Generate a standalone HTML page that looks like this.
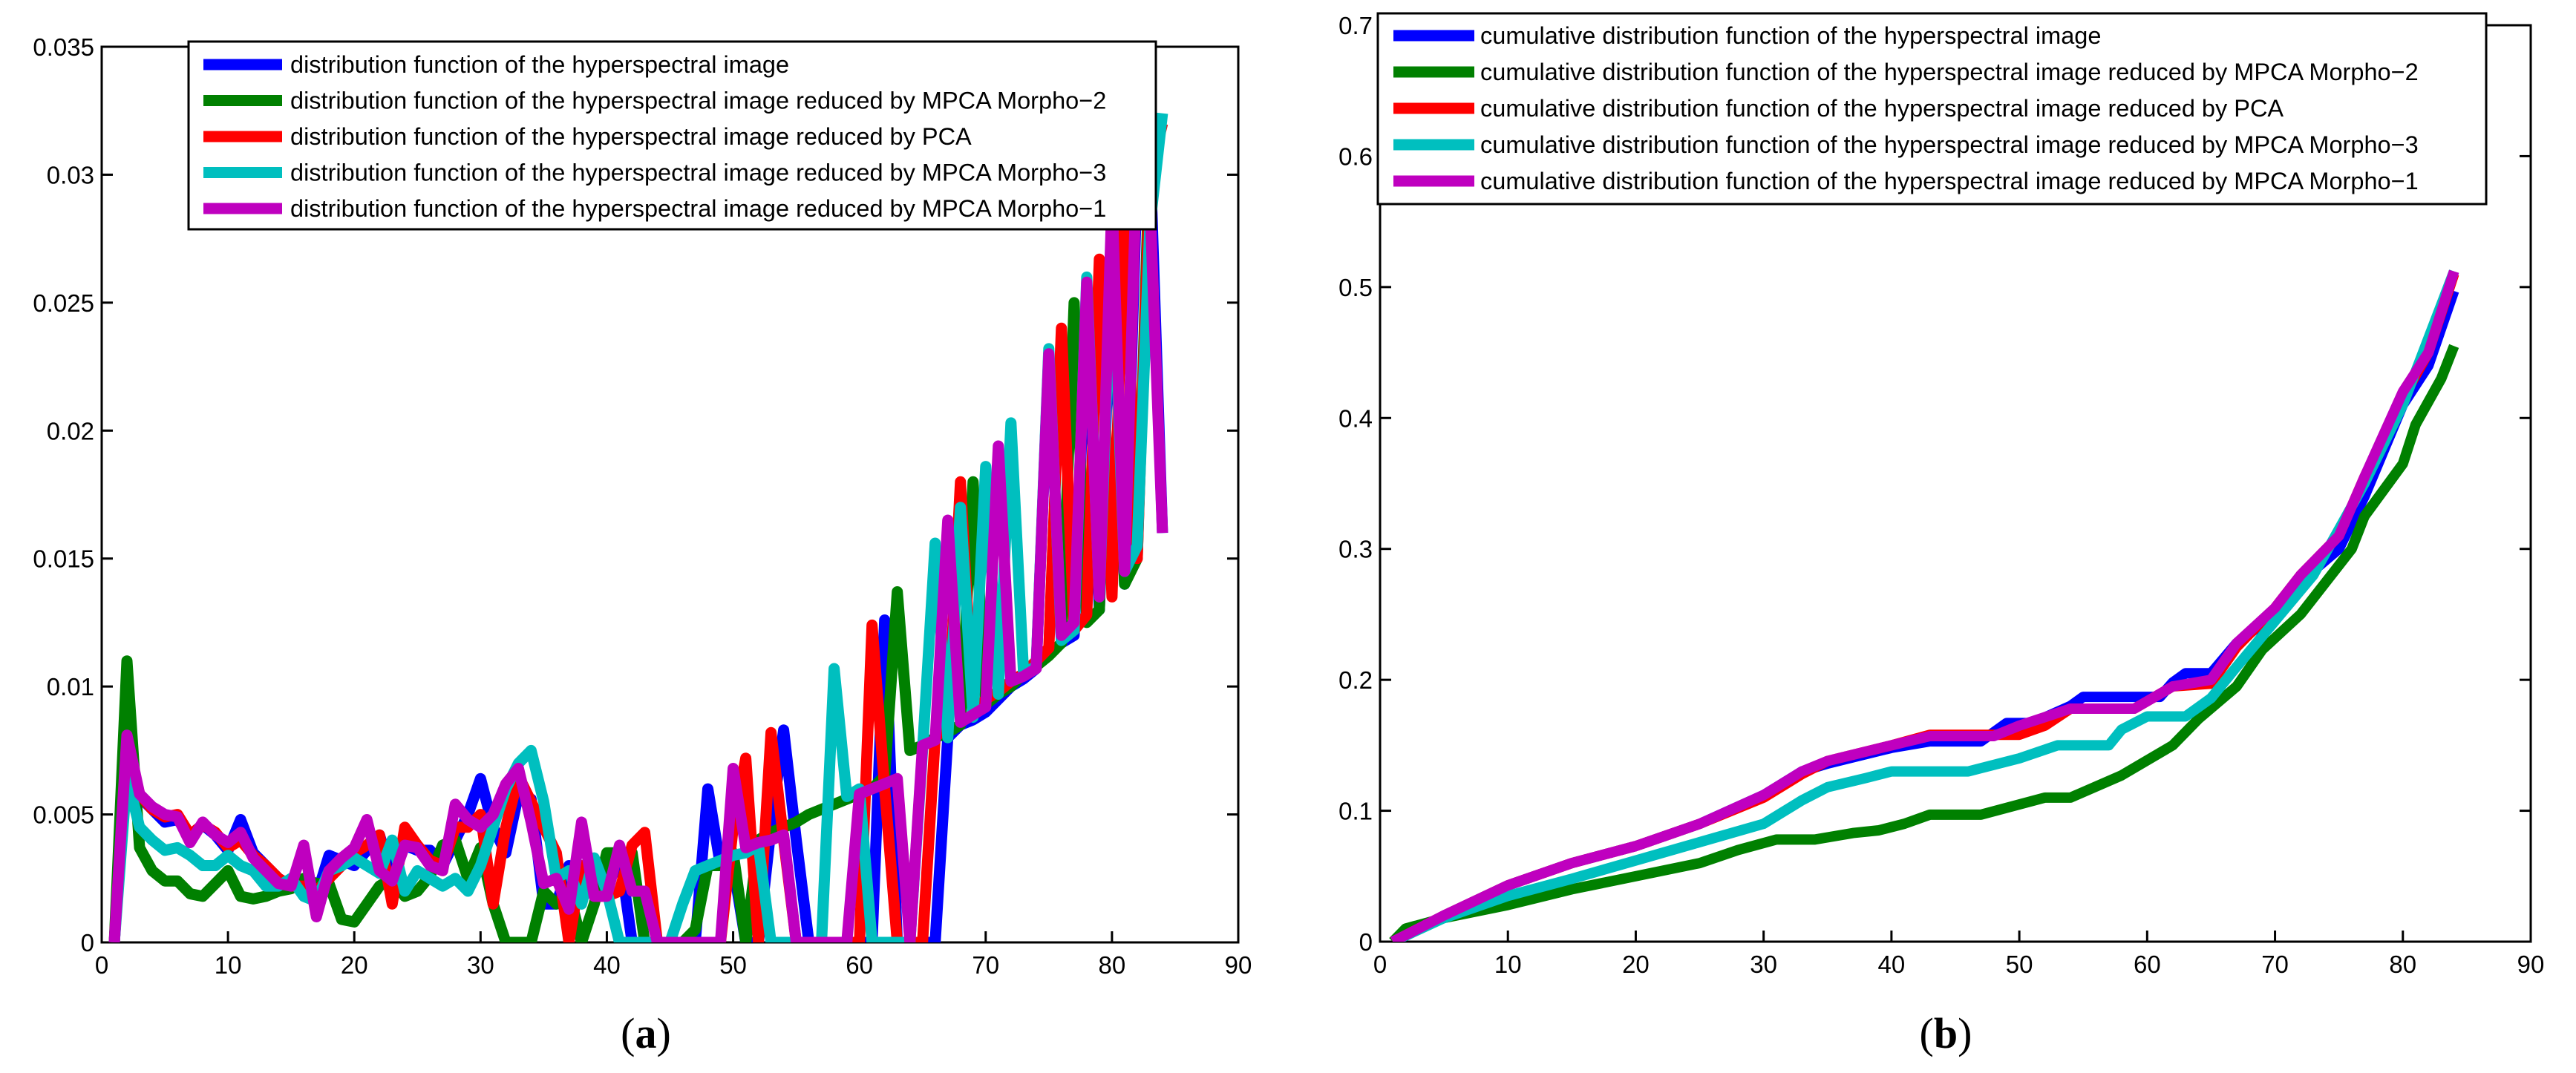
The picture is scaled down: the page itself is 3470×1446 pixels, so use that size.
<!DOCTYPE html>
<html><head><meta charset="utf-8">
<style>
html,body{margin:0;padding:0;background:#fff;}
svg{display:block;}
text{font-family:"Liberation Sans",sans-serif;}
</style></head>
<body>
<svg id="fig" width="3470" height="1446" viewBox="0 0 3470 1446" xmlns="http://www.w3.org/2000/svg">
<g id="plotA"></g>
<g id="plotB"></g>
<text x="870" y="1412" text-anchor="middle" font-size="58" style="font-family:'Liberation Serif',serif">(<tspan font-weight="bold">a</tspan>)</text>
<text x="2621" y="1412" text-anchor="middle" font-size="58" style="font-family:'Liberation Serif',serif">(<tspan font-weight="bold">b</tspan>)</text>
</svg>
<script>
// ---------- Panel A data ----------
const xTicksA = [0,10,20,30,40,50,60,70,80,90];
const yTicksA = [0,0.005,0.01,0.015,0.02,0.025,0.03,0.035];
const yTickLabelsA = ["0","0.005","0.01","0.015","0.02","0.025","0.03","0.035"];
const seriesNamesA = [
 "distribution function of the hyperspectral image",
 "distribution function of the hyperspectral image reduced by MPCA Morpho\u22122",
 "distribution function of the hyperspectral image reduced by PCA",
 "distribution function of the hyperspectral image reduced by MPCA Morpho\u22123",
 "distribution function of the hyperspectral image reduced by MPCA Morpho\u22121"];
const blueA = [0,0.0078,0.0057,0.0052,0.0047,0.0048,0.0042,0.0046,0.0042,0.0036,0.0048,0.0035,0.003,0.0025,0.0022,0.0022,0.0018,0.0034,0.0032,0.003,0.0036,0.0042,0.0025,0.0038,0.0036,0.0036,0.003,0.004,0.005,0.0064,0.0045,0.0035,0.0058,0.0056,0.0015,0.0015,0.003,0.002,0.0025,0.003,0.0035,0,0,0,0,0,0,0.006,0.003,0.003,0,0,0.0045,0.0083,0.004,0,0,0,0,0,0,0.0126,0,0,0,0,0.008,0.0085,0.0087,0.009,0.0095,0.01,0.0103,0.0107,0.023,0.0117,0.012,0.025,0.013,0.027,0.014,0.03,0.031,0.016];
const greenA = [0,0.011,0.0037,0.0028,0.0024,0.0024,0.0019,0.0018,0.0023,0.0028,0.0018,0.0017,0.0018,0.002,0.0021,0.0025,0.0023,0.0023,0.0009,0.0008,0.0015,0.0022,0.0025,0.0018,0.002,0.0026,0.0038,0.004,0.0025,0.0037,0.0015,0,0,0,0.002,0.0015,0.002,0,0.0015,0.0035,0.0035,0.0035,0,0,0,0,0.0005,0.003,0.003,0.0035,0,0.004,0.0043,0.0045,0.0047,0.005,0.0052,0.0054,0.0056,0.0058,0.006,0.0065,0.0137,0.0075,0.0077,0.008,0.0082,0.0085,0.018,0.0093,0.0097,0.01,0.0105,0.0108,0.0112,0.0117,0.025,0.0125,0.013,0.028,0.014,0.015,0.031,0.032];
const redA = [0,0.0078,0.0058,0.0052,0.0049,0.005,0.0042,0.0046,0.0043,0.0037,0.004,0.0034,0.003,0.0025,0.0022,0.0022,0.002,0.0025,0.003,0.0035,0.0038,0.0042,0.0015,0.0045,0.0038,0.0032,0.003,0.0045,0.0045,0.005,0.0015,0.0045,0.0065,0.0055,0.0045,0.0035,0,0.003,0.0018,0.0018,0.002,0.0038,0.0043,0,0,0,0,0,0,0.0045,0.0072,0,0.0082,0.004,0,0,0,0,0,0,0.0124,0.006,0,0,0,0.008,0.0085,0.018,0.009,0.0095,0.0098,0.0102,0.0105,0.011,0.0115,0.024,0.0122,0.0128,0.0267,0.0135,0.0285,0.015,0.03,0.032];
const cyanA = [0,0.0065,0.0045,0.004,0.0036,0.0037,0.0034,0.003,0.003,0.0034,0.003,0.0028,0.0022,0.0022,0.0025,0.0018,0.0016,0.0028,0.003,0.0033,0.003,0.0027,0.004,0.002,0.0028,0.0025,0.0022,0.0025,0.002,0.003,0.0045,0.006,0.007,0.0075,0.0055,0.0025,0.0028,0.0015,0.0033,0.002,0,0,0,0,0,0.0015,0.0028,0.003,0.0032,0.0034,0.0035,0.0038,0,0,0,0,0,0.0107,0.0057,0.006,0,0,0,0,0.0075,0.0156,0.008,0.017,0.0088,0.0186,0.0097,0.0203,0.0105,0.0108,0.0232,0.0118,0.0122,0.026,0.0135,0.0275,0.0145,0.0155,0.028,0.0324];
const magentaA = [0,0.0081,0.0058,0.0053,0.005,0.0049,0.0039,0.0047,0.0042,0.0039,0.0043,0.0033,0.0028,0.0023,0.0022,0.0038,0.001,0.0028,0.0033,0.0037,0.0048,0.0028,0.0024,0.0038,0.0037,0.003,0.0028,0.0054,0.0048,0.0045,0.005,0.0062,0.0068,0.0047,0.0023,0.0025,0.0013,0.0047,0.0018,0.0018,0.0038,0.002,0.002,0,0,0,0,0,0,0.0068,0.0037,0.0039,0.004,0.0042,0,0,0,0,0,0.0058,0.006,0.0062,0.0064,0,0.0077,0.0079,0.0165,0.0086,0.0089,0.0092,0.0194,0.0102,0.0104,0.0107,0.023,0.012,0.0125,0.0258,0.0135,0.029,0.0145,0.031,0.029,0.016];

// ---------- Panel B data ----------
const xTicksB = [0,10,20,30,40,50,60,70,80,90];
const yTicksB = [0,0.1,0.2,0.3,0.4,0.5,0.6,0.7];
const yTickLabelsB = ["0","0.1","0.2","0.3","0.4","0.5","0.6","0.7"];
const seriesNamesB = seriesNamesA.map(s => "cumulative " + s);
const blueBx = [1,5,10,15,20,25,30,33,35,40,43,47,49,51,54,55,61,62,63,65,67,70,72,75,77,80,82,84];
const blueBy = [0,0.02,0.043,0.06,0.073,0.09,0.112,0.13,0.136,0.148,0.153,0.153,0.167,0.167,0.18,0.187,0.187,0.198,0.205,0.205,0.228,0.25,0.275,0.3,0.34,0.41,0.44,0.497];
const greenBx = [1,2,5,10,15,20,25,28,31,34,37,39,41,43,47,52,54,58,62,64,67,69,72,76,77,80,81,83,84];
const greenBy = [0,0.01,0.018,0.028,0.04,0.05,0.06,0.07,0.078,0.078,0.083,0.085,0.09,0.097,0.097,0.11,0.11,0.127,0.15,0.17,0.195,0.223,0.25,0.3,0.325,0.365,0.395,0.43,0.455];
const redBx = [1,5,10,15,20,25,30,33,35,40,43,48,50,52,54,59,62,65,67,70,72,75,77,80,82,84];
const redBy = [0,0.02,0.043,0.06,0.073,0.09,0.11,0.128,0.138,0.15,0.158,0.158,0.158,0.165,0.178,0.178,0.195,0.197,0.225,0.255,0.28,0.31,0.355,0.415,0.45,0.51];
const cyanBx = [1,5,10,15,20,25,30,33,35,38,40,46,50,53,57,58,60,63,65,67,70,73,77,80,84];
const cyanBy = [0,0.018,0.035,0.048,0.062,0.076,0.09,0.108,0.118,0.125,0.13,0.13,0.14,0.15,0.15,0.162,0.172,0.172,0.186,0.21,0.245,0.28,0.35,0.41,0.512];
const magentaBx = [1,5,10,15,20,25,30,33,35,40,43,48,50,54,59,62,65,67,70,72,75,77,80,82,84];
const magentaBy = [0,0.02,0.043,0.06,0.073,0.09,0.112,0.13,0.138,0.15,0.157,0.157,0.165,0.178,0.178,0.195,0.2,0.228,0.255,0.28,0.31,0.355,0.42,0.45,0.512];

const colors = ["#0000ff","#008000","#ff0000","#00bfbf","#bf00bf"];
const NS = "http://www.w3.org/2000/svg";
function mk(tag, attrs, parent){const e=document.createElementNS(NS,tag);for(const k in attrs)e.setAttribute(k,attrs[k]);parent.appendChild(e);return e;}

function drawPanel(g, box, xmax, ymax, xTicks, yTicks, yLabels, seriesX, seriesY, names, lw, legend){
  const sx = v => box.l + (v/xmax)*(box.r-box.l);
  const sy = v => box.b - (v/ymax)*(box.b-box.t);
  const clipId = "clip"+g.id;
  const defs = mk("defs",{},g);
  const cp = mk("clipPath",{id:clipId},defs);
  mk("rect",{x:box.l,y:box.t,width:box.r-box.l,height:box.b-box.t},cp);
  const frame = mk("rect",{x:box.l,y:box.t,width:box.r-box.l,height:box.b-box.t,fill:"#fff",stroke:"#000","stroke-width":3},g);
  
  
  xTicks.forEach(v=>{
    const x=sx(v);
    const t1=mk("line",{x1:x,x2:x,y1:box.b,y2:box.b-15,stroke:"#000","stroke-width":3},g);
    
    
    mk("line",{x1:x,x2:x,y1:box.t,y2:box.t+15,stroke:"#000","stroke-width":3},g);
    const tx=mk("text",{x:x,y:box.b+42,"text-anchor":"middle","font-size":33},g);
    tx.textContent=String(v);
    
    
  });
  yTicks.forEach((v,i)=>{
    const y=sy(v);
    const t1=mk("line",{x1:box.l,x2:box.l+15,y1:y,y2:y,stroke:"#000","stroke-width":3},g);
    
    
    mk("line",{x1:box.r,x2:box.r-15,y1:y,y2:y,stroke:"#000","stroke-width":3},g);
    const tx=mk("text",{x:box.l-10,y:y+12,"text-anchor":"end","font-size":33},g);
    tx.textContent=yLabels[i];
    
    
  });
  const lines = mk("g",{"clip-path":"url(#"+clipId+")"},g);
  seriesY.forEach((ys,si)=>{
    const xs = seriesX[si];
    const pts = ys.map((v,i)=>sx(xs[i]).toFixed(1)+","+sy(v).toFixed(1)).join(" ");
    const pl = mk("polyline",{points:pts,fill:"none",stroke:colors[si],"stroke-width":lw,"stroke-linejoin":"round","stroke-linecap":"butt"},lines);
    
    
  });
  const lg = mk("g",{},g);
  
  
  mk("rect",{x:legend.l,y:legend.t,width:legend.r-legend.l,height:legend.b-legend.t,fill:"#fff",stroke:"#000","stroke-width":3},lg);
  names.forEach((n,i)=>{
    const y = legend.y0 + i*legend.dy;
    const ln = mk("line",{x1:legend.sx1,x2:legend.sx2,y1:y,y2:y,stroke:colors[i],"stroke-width":15},lg);
    
    
    const tx = mk("text",{x:legend.tx,y:y+11,"font-size":32.5},lg);
    tx.textContent = n;
    
    
  });
}

const idxA = blueA.map((_,i)=>i+1);
drawPanel(document.getElementById("plotA"), {l:137,r:1668,t:63,b:1270}, 90, 0.035,
  xTicksA, yTicksA, yTickLabelsA,
  [idxA,idxA,idxA,idxA,idxA], [blueA,greenA,redA,cyanA,magentaA], seriesNamesA, 15,
  {l:254,r:1557,t:56,b:309,y0:87,dy:48.5,sx1:274,sx2:380,tx:391});

drawPanel(document.getElementById("plotB"), {l:1859,r:3409,t:34,b:1269}, 90, 0.7,
  xTicksB, yTicksB, yTickLabelsB,
  [blueBx,greenBx,redBx,cyanBx,magentaBx], [blueBy,greenBy,redBy,cyanBy,magentaBy], seriesNamesB, 14,
  {l:1856,r:3349,t:18,b:275,y0:48,dy:49,sx1:1877,sx2:1986,tx:1994});
</script>
</body></html>
